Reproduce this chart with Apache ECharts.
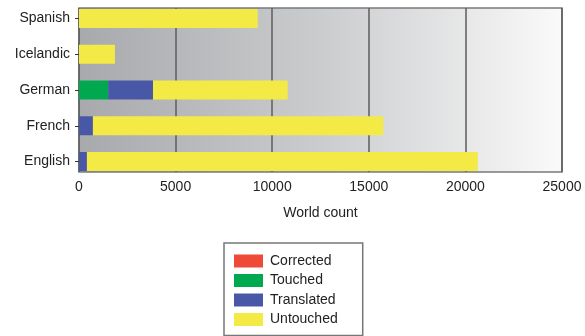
<!DOCTYPE html>
<html>
<head>
<meta charset="utf-8">
<script src="https://cdn.jsdelivr.net/npm/echarts@6/dist/echarts.min.js"></script>
<style>
  html, body { margin: 0; padding: 0; background: #fff; }
  #chart { width: 585px; height: 336px; }
</style>
</head>
<body>
<div id="chart"></div>
<script>
// data
const languages = ['English', 'French', 'German', 'Icelandic', 'Spanish']
const corrected = [0, 0, 0, 0, 0]
const touched = [0, 0, 1510, 0, 0]
const translated = [410, 720, 2320, 0, 0]
const untouched = [20230, 15030, 6970, 1860, 9250]
const xMin = 0
const xMax = 25000
const xStep = 5000

const colors = {
  Corrected: '#ef4a38',
  Touched: '#00a84f',
  Translated: '#4858a6',
  Untouched: '#f4ea45'
}

const font = '"Liberation Sans", Arial, sans-serif'
const chart = echarts.init(document.getElementById('chart'))

const mkSeries = (name, data) => ({
  name: name,
  type: 'bar',
  stack: 'total',
  xAxisIndex: 1,
  yAxisIndex: 1,
  barWidth: 19,
  itemStyle: { color: colors[name] },
  data: data
})

const option = {
  animation: false,
  textStyle: { fontFamily: font },
  grid: [
    // plot frame with the gradient
    {
      left: 79, right: 23, top: 8, bottom: 164,
      show: true,
      borderColor: '#7a7a7a',
      borderWidth: 1.5,
      backgroundColor: new echarts.graphic.LinearGradient(0, 0, 1, 0, [
        { offset: 0, color: '#a8a9ac' },
        { offset: 0.5, color: '#cbccce' },
        { offset: 1, color: '#fafafa' }
      ])
    },
    // bars, category centres
    { left: 79, right: 23, top: 18.5, bottom: 174.5 }
  ],
  xAxis: [
    {
      gridIndex: 0,
      type: 'value',
      min: xMin, max: xMax, interval: xStep,
      name: 'World count',
      nameLocation: 'middle',
      nameGap: 34,
      nameTextStyle: { fontSize: 14, color: '#222', fontFamily: font },
      axisLine: { show: false },
      axisTick: { show: false },
      axisLabel: {
        fontSize: 14, color: '#222', margin: 8, fontFamily: font,
        formatter: v => String(v)
      },
      splitLine: { show: true, lineStyle: { color: '#5c5c5c', width: 1.5 } }
    },
    {
      gridIndex: 1,
      type: 'value',
      min: xMin, max: xMax,
      show: false
    }
  ],
  yAxis: [
    { gridIndex: 0, type: 'value', show: false },
    {
      gridIndex: 1,
      type: 'category',
      data: languages,
      boundaryGap: false,
      axisLine: { show: false },
      axisTick: { show: true, length: 4, lineStyle: { color: '#333' } },
      axisLabel: { fontSize: 14, color: '#222', margin: 9, fontFamily: font },
      splitLine: { show: false }
    }
  ],
  legend: {
    orient: 'vertical',
    left: 224,
    top: 243,
    data: ['Corrected', 'Touched', 'Translated', 'Untouched'],
    icon: 'rect',
    itemWidth: 29,
    itemHeight: 13,
    itemGap: 5.5,
    padding: [11, 25, 9, 10],
    borderColor: '#777',
    borderWidth: 1.5,
    selectedMode: false,
    textStyle: { fontSize: 14, color: '#222', fontFamily: font, padding: [0, 0, 0, 2] }
  },
  series: [
    mkSeries('Corrected', corrected),
    mkSeries('Touched', touched),
    mkSeries('Translated', translated),
    mkSeries('Untouched', untouched)
  ]
}

chart.setOption(option)
</script>
</body>
</html>
